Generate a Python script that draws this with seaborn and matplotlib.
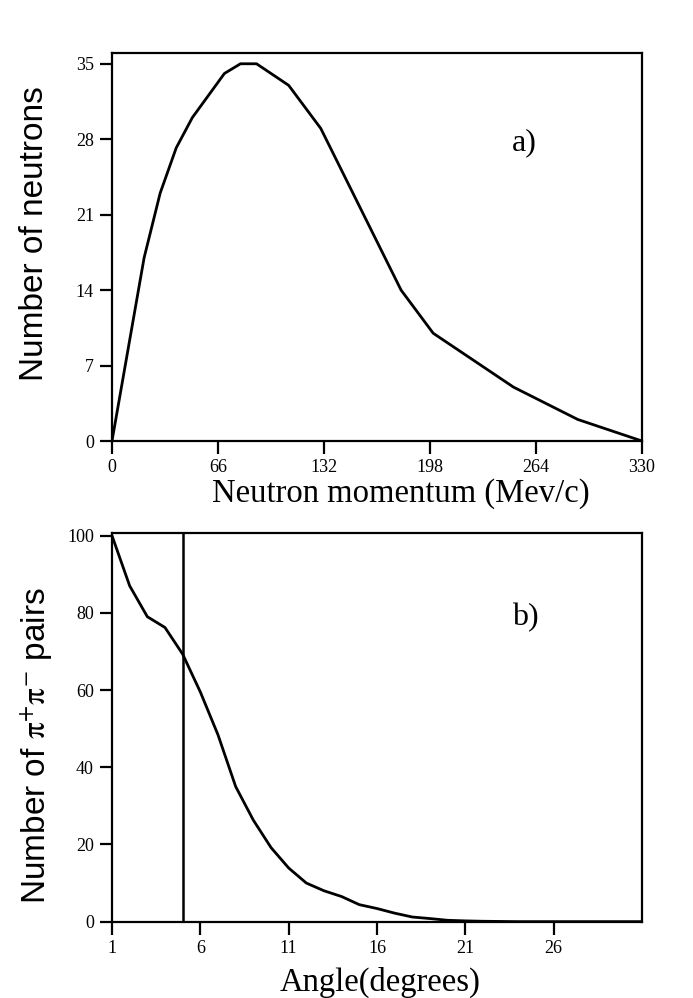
import numpy as np
import pandas as pd
import matplotlib
matplotlib.use("Agg")
import matplotlib.pyplot as plt
import seaborn as sns

# panel a) neutron momentum distribution
momentum = [0, 20, 30, 40, 50, 70, 80, 90, 110, 130, 155, 180, 200, 250, 290, 330]
neutrons = [0, 17, 23, 27.2, 30, 34.1, 35, 35, 33, 29, 21.5, 14, 10, 5, 2, 0]
mom_ticks = [0, 66, 132, 198, 264, 330]
neu_ticks = [0, 7, 14, 21, 28, 35]

# panel b) opening angle of pion pairs
angle = [1, 2, 3, 4, 5, 6, 7, 8, 9, 10, 11, 12, 13, 14, 15, 16, 17, 18, 19, 20,
         21, 22, 23, 24, 25, 26, 27, 28, 29, 30, 31]
pairs = [100, 87, 79, 76.2, 69.3, 59.5, 48.4, 35, 26.3, 19.2, 13.9, 10, 8, 6.5,
         4.4, 3.4, 2.2, 1.2, 0.8, 0.35, 0.2, 0.1, 0.05, 0, 0, 0, 0, 0, 0, 0, 0]
ang_ticks = [1, 6, 11, 16, 21, 26]
pair_ticks = [0, 20, 40, 60, 80, 100]
cut_angle = 5

sns.set_style("ticks")
plt.rcParams["font.family"] = ["Liberation Serif", "DejaVu Serif"]
plt.rcParams["mathtext.fontset"] = "stix"
for key in ("text.color", "axes.labelcolor", "xtick.color", "ytick.color", "axes.edgecolor"):
    plt.rcParams[key] = "black"

df_a = pd.DataFrame({"p": momentum, "n": neutrons})
df_b = pd.DataFrame({"a": angle, "n": pairs})

fig = plt.figure(figsize=(6.93, 9.98), dpi=100)
ax1 = fig.add_axes([0.1616, 0.5581, 0.7648, 0.3888])
ax2 = fig.add_axes([0.1616, 0.0765, 0.7648, 0.3895])

sns.lineplot(data=df_a, x="p", y="n", ax=ax1, color="black", linewidth=2)
sns.lineplot(data=df_b, x="a", y="n", ax=ax2, color="black", linewidth=2)
ax2.axvline(cut_angle, color="black", linewidth=1.8)

ax1.set_xlim(0, 330)
ax1.set_ylim(0, 36)
ax1.set_xticks(mom_ticks)
ax1.set_yticks(neu_ticks)
ax2.set_xlim(1, 31)
ax2.set_ylim(0, 100.7)
ax2.set_xticks(ang_ticks)
ax2.set_yticks(pair_ticks)

sans = ["Liberation Sans", "DejaVu Sans"]
ax1.set_xlabel("Neutron momentum (Mev/c)", fontsize=23.5)
ax1.set_ylabel("Number of neutrons", fontsize=24, family=sans)
ax2.set_xlabel("Angle(degrees)", fontsize=23.5)
ax2.set_ylabel(r"Number of $\mathrm{\pi}^{+}\mathrm{\pi}^{-}$ pairs", fontsize=24, family=sans)
ax1.xaxis.set_label_coords(0.545, -0.095)
ax2.xaxis.set_label_coords(0.506, -0.115)
ax1.yaxis.set_label_coords(-0.117, 0.535)
ax2.yaxis.set_label_coords(-0.108, 0.452)

ax1.text(257, 27.7, "a)", fontsize=23, ha="center", va="center")
ax2.text(24.4, 78.9, "b)", fontsize=23, ha="center", va="center")

for ax in (ax1, ax2):
    for s in ax.spines.values():
        s.set_linewidth(1.6)
        s.set_visible(True)
    ax.tick_params(direction="out", length=9, width=1.6, labelsize=13, pad=4)
    ax.grid(False)

fig.savefig("out.png", dpi=100)
